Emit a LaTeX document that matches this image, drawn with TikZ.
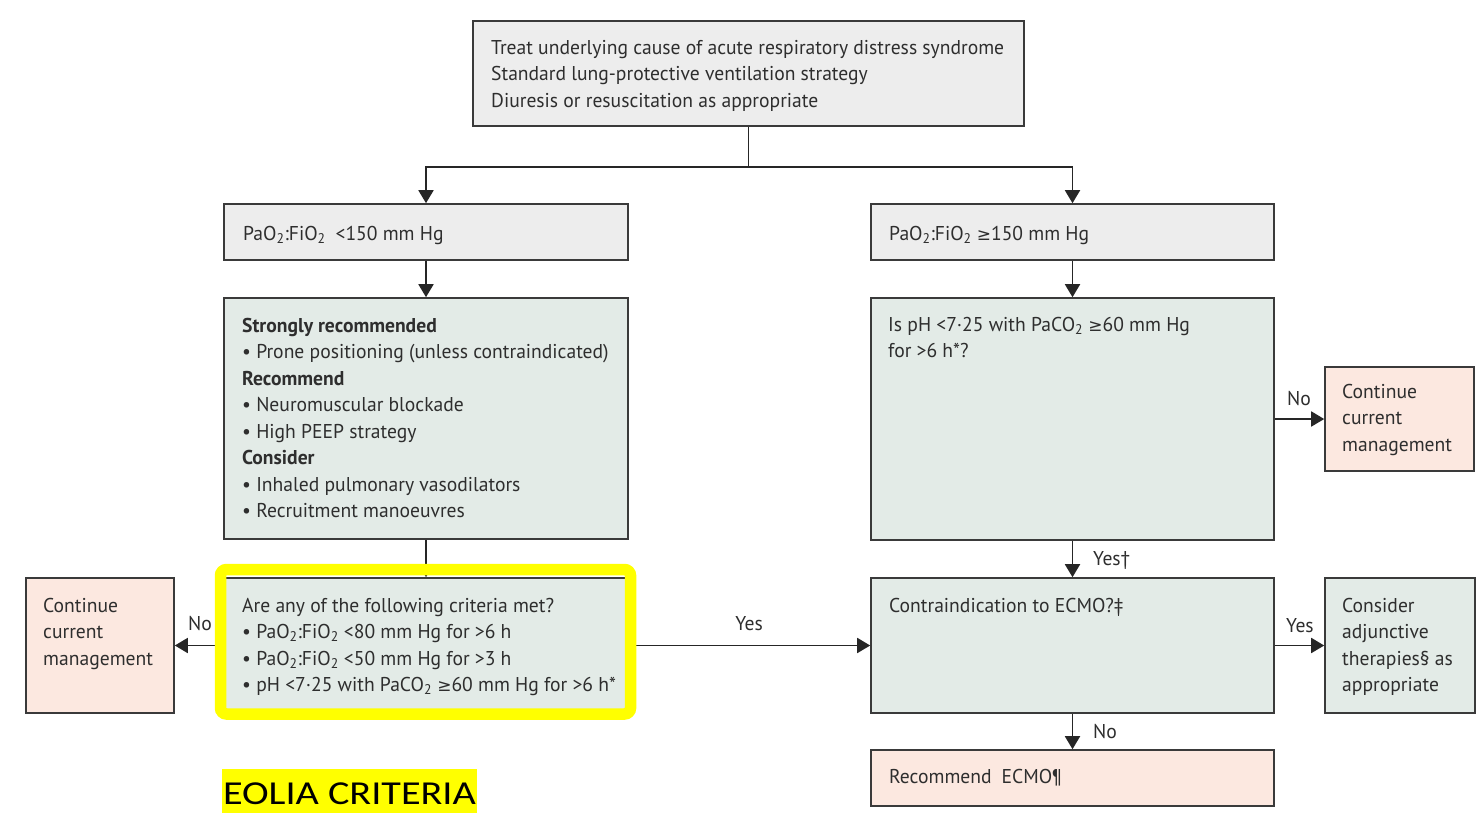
\documentclass[tikz,border=0pt]{standalone}
\usepackage{fontspec}
\setmainfont{PT Sans}[FakeStretch=0.98]
\newfontfamily\symfont{DejaVu Sans}[Scale=0.85]
\newfontfamily\titlefont{Carlito}[FakeStretch=1.2]
\usetikzlibrary{arrows.meta}

\definecolor{boxgray}{HTML}{EDEDED}
\definecolor{boxgreen}{HTML}{E3EBE7}
\definecolor{boxpink}{HTML}{FCE8E0}
\definecolor{edge}{HTML}{3A3A3A}
\definecolor{wire}{HTML}{262626}
\definecolor{ink}{HTML}{2E2E2E}
\definecolor{hilite}{HTML}{FFFF00}

\newcommand\gesign{{\symfont ≥}}
\newcommand\firstln{\rule{0pt}{16pt}}
\newcommand\bodyfont{\fontsize{20}{26.5}\selectfont}

\tikzset{
  panel/.style={draw=edge, line width=1.6pt, rectangle, inner sep=0pt},
  graybox/.style={panel, fill=boxgray},
  greenbox/.style={panel, fill=boxgreen},
  pinkbox/.style={panel, fill=boxpink},
  txt/.style={anchor=north west, inner sep=0pt, align=left, text=ink, font=\bodyfont},
  lbl/.style={anchor=base west, inner sep=0pt, text=ink, font=\bodyfont},
  arr/.style={draw=wire, line width=1.8pt, -{Triangle[length=13pt,width=15pt]}},
  link/.style={draw=wire, line width=1.8pt},
}

\begin{document}
\begin{tikzpicture}[x=1pt,y=-1pt]
\useasboundingbox (0,0) rectangle (1480,828);
\fill[white] (0,0) rectangle (1480,828);

% boxes
\node[graybox, minimum width=551pt, minimum height=105pt] (top) at (748.5,73.5) {};
\node[graybox, minimum width=404pt, minimum height=56pt] (lo) at (426,232) {};
\node[graybox, minimum width=403pt, minimum height=56pt] (ro) at (1072.5,232) {};
\node[greenbox, minimum width=404pt, minimum height=241pt] (rec) at (426,418.5) {};
\node[greenbox, minimum width=403pt, minimum height=242pt] (ph) at (1072.5,419) {};
\node[pinkbox, minimum width=149pt, minimum height=104pt] (contR) at (1399.5,419) {};
\node[greenbox, minimum width=404pt, minimum height=135pt] (crit) at (426,645.5) {};
\node[pinkbox, minimum width=148pt, minimum height=135pt] (contL) at (100,645.5) {};
\node[greenbox, minimum width=403pt, minimum height=135pt] (ci) at (1072.5,645.5) {};
\node[greenbox, minimum width=150pt, minimum height=135pt] (adj) at (1400,645.5) {};
\node[pinkbox, minimum width=403pt, minimum height=56pt] (ecmo) at (1072.5,778) {};

% box texts
\node[txt] (ttop) at (491,38) {\firstln Treat underlying cause of acute respiratory distress syndrome\\
  Standard lung-protective ventilation strategy\\
  Diuresis or resuscitation as appropriate};
\node[txt] (tlo) at (243,224) {\firstln PaO\textsubscript{2}:FiO\textsubscript{2}\enspace<150 mm Hg};
\node[txt] (tro) at (889,224) {\firstln PaO\textsubscript{2}:FiO\textsubscript{2} \gesign150 mm Hg};
\node[txt] (trec) at (242,316) {\firstln\textbf{Strongly recommended}\\
  • Prone positioning (unless contraindicated)\\
  \textbf{Recommend}\\
  • Neuromuscular blockade\\
  • High PEEP strategy\\
  \textbf{Consider}\\
  • Inhaled pulmonary vasodilators\\
  • Recruitment manoeuvres};
\node[txt] (tph) at (888,315) {\firstln Is pH <7·25 with PaCO\textsubscript{2} \gesign60 mm Hg\\
  for >6 h*?};
\node[txt] (tcontR) at (1342,382) {\firstln Continue\\ current\\ management};
\node[txt] (tcrit) at (242,596) {\firstln Are any of the following criteria met?\\
  • PaO\textsubscript{2}:FiO\textsubscript{2} <80 mm Hg for >6 h\\
  • PaO\textsubscript{2}:FiO\textsubscript{2} <50 mm Hg for >3 h\\
  • pH <7·25 with PaCO\textsubscript{2} \gesign60 mm Hg for >6 h*};
\node[txt] (tcontL) at (43,596) {\firstln Continue\\ current\\ management};
\node[txt] (tci) at (889,596) {\firstln Contraindication to ECMO?‡};
\node[txt] (tadj) at (1342,596) {\firstln Consider\\ adjunctive\\ therapies§ as\\ appropriate};
\node[txt] (tecmo) at (889,767) {\firstln Recommend\enspace ECMO¶};

% connectors
\draw[link] (top.south) -- ++(0,40) coordinate (split);
\draw[arr] (split) -| (lo.north);
\draw[arr] (split) -| (ro.north);
\draw[arr] (lo.south) -- (rec.north);
\draw[arr] (ro.south) -- (ph.north);
\draw[arr] (rec.south) -- (crit.north);
\draw[arr] (ph.east) -- (contR.west);
\draw[arr] (ph.south) -- (ci.north);
\draw[arr] (crit.west) -- (contL.east);
\draw[arr] (crit.east) -- (ci.west);
\draw[arr] (ci.east) -- (adj.west);
\draw[arr] (ci.south) -- (ecmo.north);

% connector labels
\node[lbl] (lno1) at (1287,405) {No};
\node[lbl] (lyes1) at (1093,565) {Yes†};
\node[lbl] (lyes2) at (1286,632) {Yes};
\node[lbl] (lno2) at (1093,738) {No};
\node[lbl, anchor=base] (lyes3) at (749,630) {Yes};
\node[lbl] (lno3) at (188,630) {No};

% highlight frame around the criteria box
\draw[hilite, line width=11.5pt, rounded corners=6pt] (220.5,569.5) rectangle (630.5,714);

% caption
\node[fill=hilite, inner sep=0pt, minimum width=255pt, minimum height=44pt] (eolia) at (349.5,791) {};
\node[anchor=base, inner sep=0pt, font=\titlefont\fontsize{33.5}{40}\selectfont, text=black]
  (eoliatext) at (349.5,804) {EOLIA CRITERIA};
\end{tikzpicture}
\end{document}
